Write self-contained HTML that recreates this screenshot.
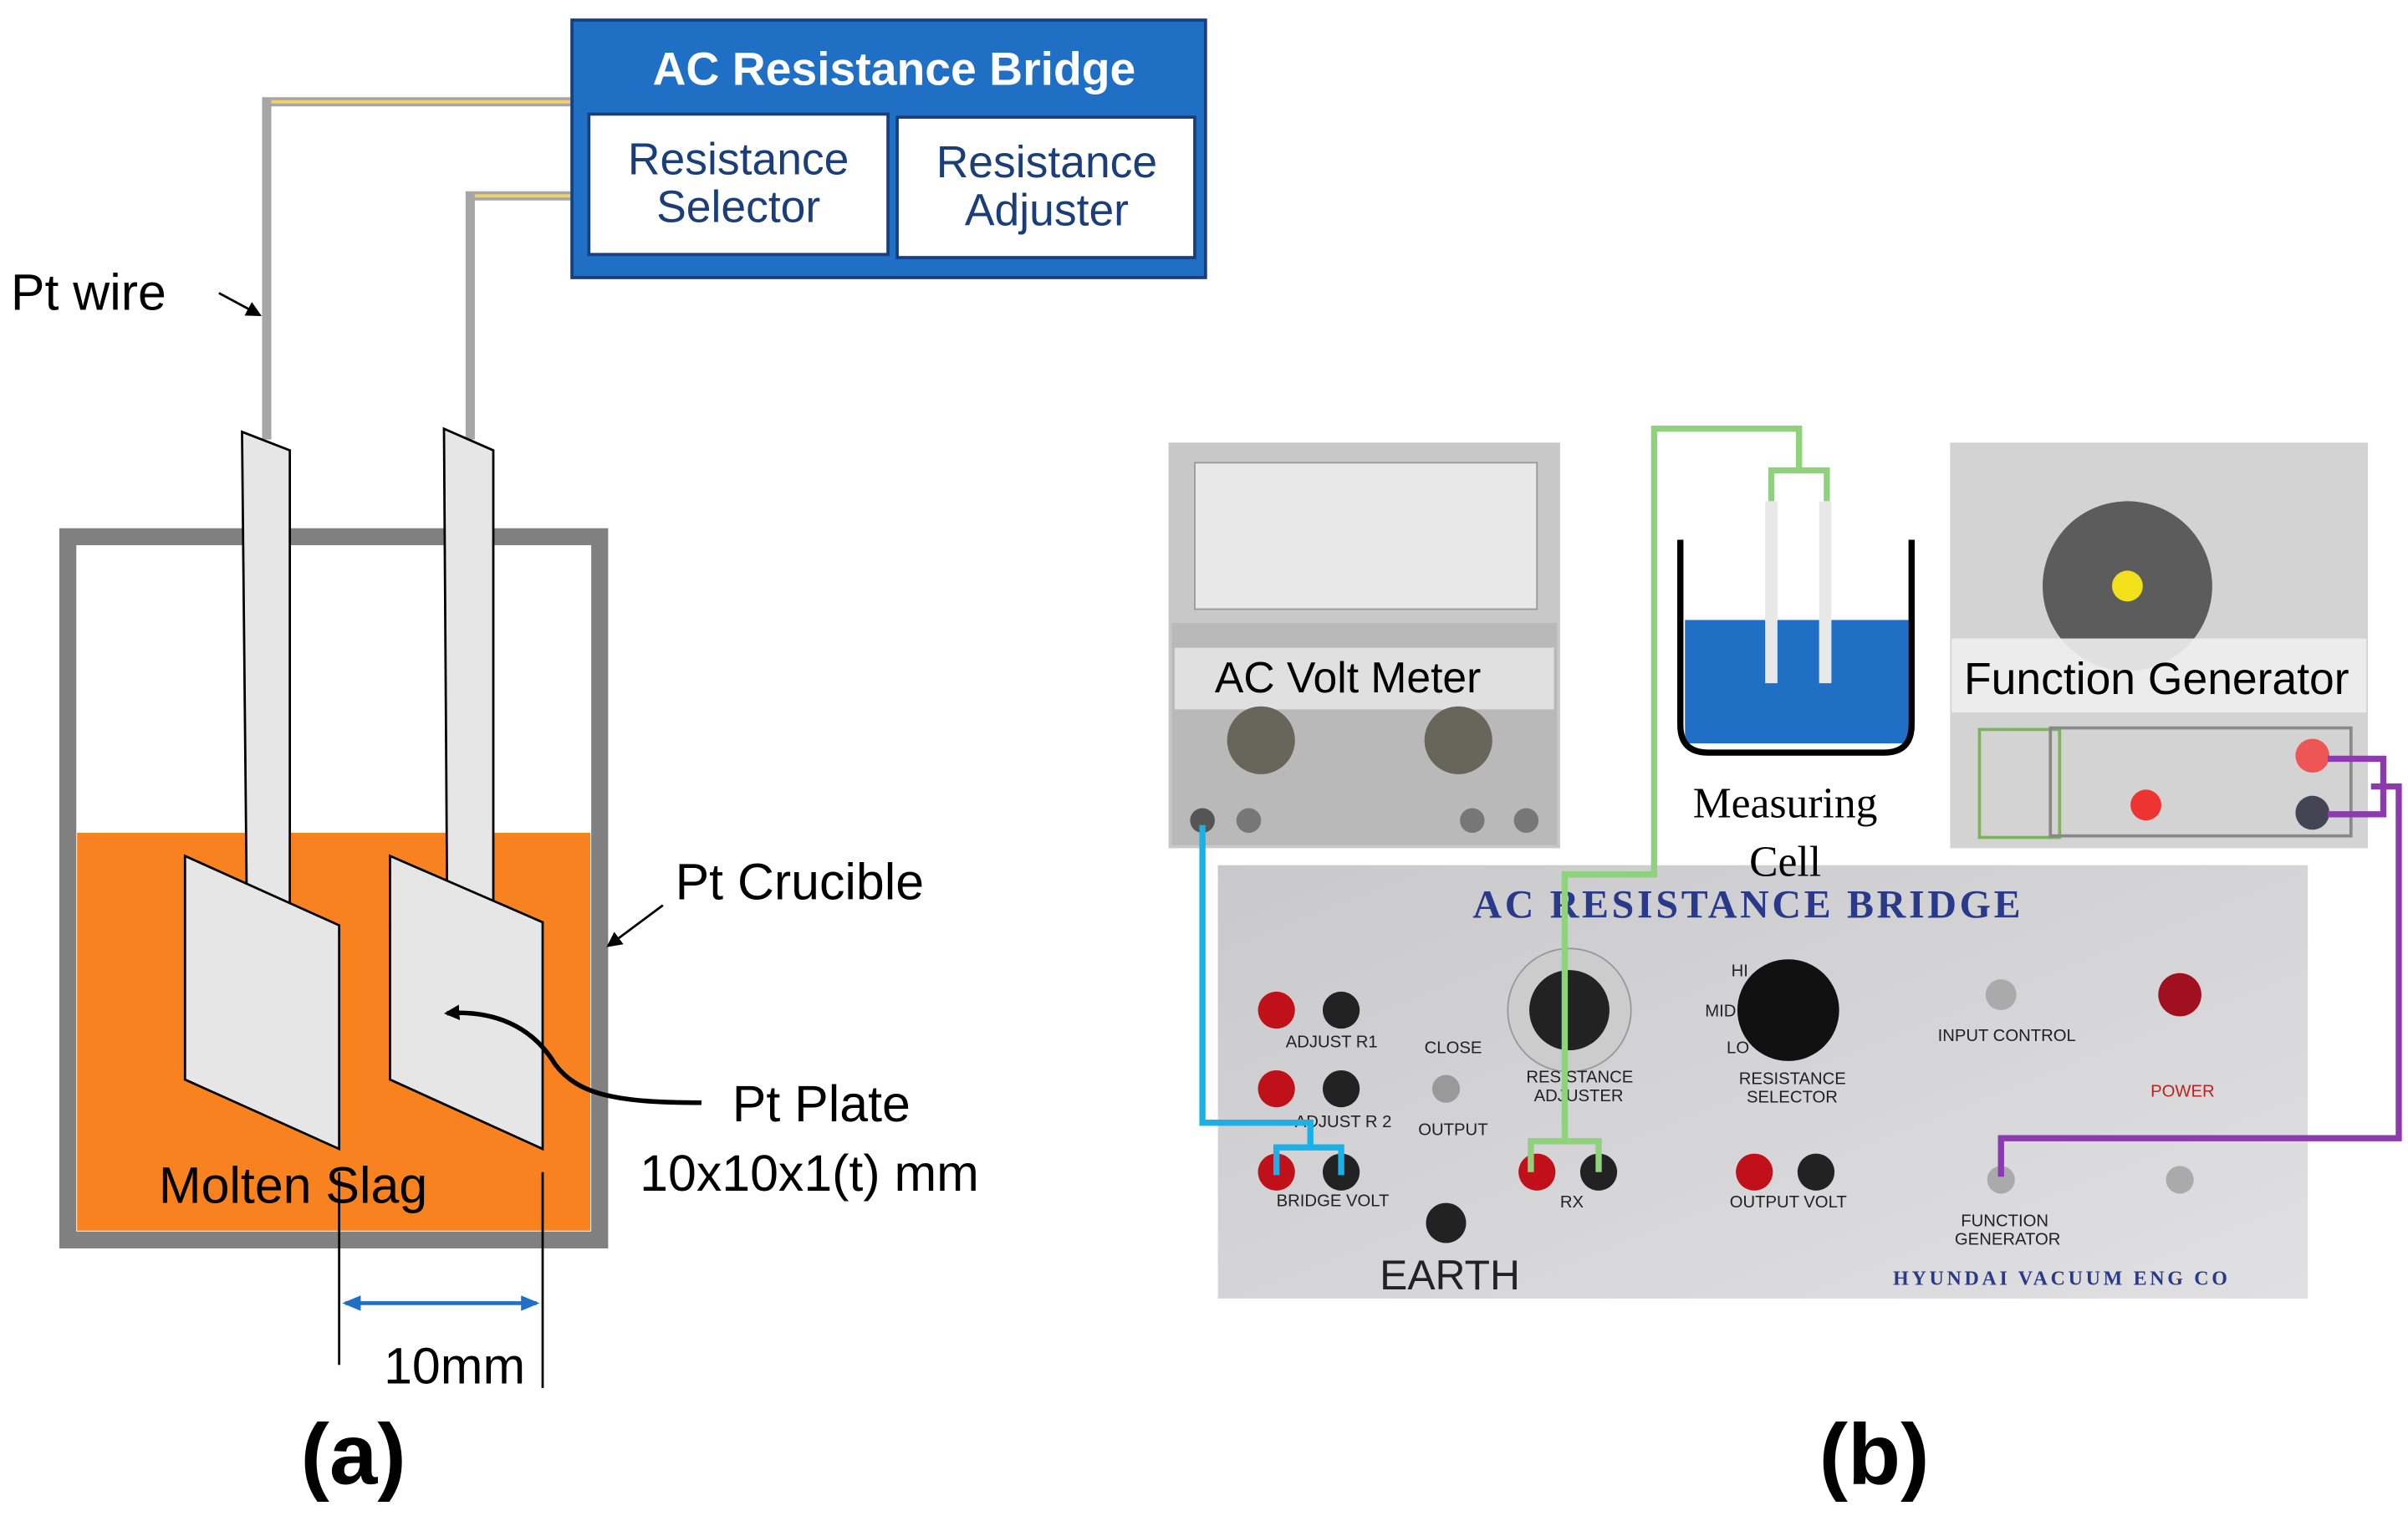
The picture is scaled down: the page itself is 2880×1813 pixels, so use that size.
<!DOCTYPE html>
<html><head><meta charset="utf-8"><style>
html,body{margin:0;padding:0;background:#fff}
svg{display:block}
text{font-family:"Liberation Sans",sans-serif}
.s{font-family:"Liberation Serif",serif}
</style></head><body>
<svg width="2880" height="1813" viewBox="0 0 1562 983" preserveAspectRatio="none" xmlns="http://www.w3.org/2000/svg">
<defs>
<marker id="ah" markerWidth="10" markerHeight="10" refX="8" refY="5" orient="auto" markerUnits="userSpaceOnUse"><path d="M0,0 L10,5 L0,10 z" fill="#000"/></marker>
<marker id="bh" markerWidth="12" markerHeight="10" refX="10" refY="5" orient="auto-start-reverse" markerUnits="userSpaceOnUse"><path d="M0,0 L12,5 L0,10 z" fill="#1f6fc5"/></marker>
<linearGradient id="pg" x1="0" y1="0" x2="1" y2="1"><stop offset="0" stop-color="#c9c9cb"/><stop offset="1" stop-color="#e0e0e2"/></linearGradient>
</defs>
<!-- Panel a -->
<rect x="44" y="348" width="345" height="456" fill="#fff" stroke="#808080" stroke-width="11"/>
<rect x="50" y="540" width="333" height="258" fill="#f7821f"/>
<!-- wires -->
<path d="M173,285 V66 H370" fill="none" stroke="#a6a6a6" stroke-width="6"/>
<path d="M176,66 H370" stroke="#f2d36b" stroke-width="2"/>
<path d="M305,285 V127 H370" fill="none" stroke="#a6a6a6" stroke-width="6"/>
<path d="M308,127 H370" stroke="#f2d36b" stroke-width="2"/>
<!-- stems & plates -->
<polygon points="157,280 188,292 188,588 160,578" fill="#e6e6e6" stroke="#000" stroke-width="1.5"/>
<polygon points="120,555 220,600 220,745 120,700" fill="#e6e6e6" stroke="#000" stroke-width="1.5"/>
<polygon points="288,278 320,292 320,588 290,578" fill="#e6e6e6" stroke="#000" stroke-width="1.5"/>
<polygon points="253,555 352,598 352,745 253,700" fill="#e6e6e6" stroke="#000" stroke-width="1.5"/>
<!-- box -->
<rect x="371" y="13" width="411" height="167" fill="#1f6fc5" stroke="#1a3e7a" stroke-width="2"/>
<text x="580" y="55" font-size="30" font-weight="bold" fill="#fff" text-anchor="middle">AC Resistance Bridge</text>
<rect x="382" y="74" width="194" height="91" fill="#fff" stroke="#1a3e7a" stroke-width="2"/>
<rect x="582" y="76" width="193" height="91" fill="#fff" stroke="#1a3e7a" stroke-width="2"/>
<text x="479" y="113" font-size="29" fill="#1a3e7a" text-anchor="middle">Resistance</text>
<text x="479" y="144" font-size="29" fill="#1a3e7a" text-anchor="middle">Selector</text>
<text x="679" y="115" font-size="29" fill="#1a3e7a" text-anchor="middle">Resistance</text>
<text x="679" y="146" font-size="29" fill="#1a3e7a" text-anchor="middle">Adjuster</text>
<!-- labels a -->
<text x="7" y="201" font-size="33">Pt wire</text>
<line x1="142" y1="190" x2="168" y2="204" stroke="#000" stroke-width="1.5" marker-end="url(#ah)"/>
<text x="438" y="583" font-size="33">Pt Crucible</text>
<line x1="430" y1="587" x2="395" y2="613" stroke="#000" stroke-width="1.5" marker-end="url(#ah)"/>
<path d="M455,715 C400,715 375,710 360,690 C345,665 320,655 290,657" fill="none" stroke="#000" stroke-width="3" marker-end="url(#ah)"/>
<text x="475" y="727" font-size="33">Pt Plate</text>
<text x="415" y="772" font-size="33">10x10x1(t) mm</text>
<text x="103" y="780" font-size="33">Molten Slag</text>
<line x1="220" y1="760" x2="220" y2="885" stroke="#000" stroke-width="1.5"/>
<line x1="352" y1="760" x2="352" y2="900" stroke="#000" stroke-width="1.5"/>
<line x1="224" y1="845" x2="348" y2="845" stroke="#1f6fc5" stroke-width="2.5" marker-start="url(#bh)" marker-end="url(#bh)"/>
<text x="249" y="897" font-size="33">10mm</text>
<text x="195" y="962" font-size="56" font-weight="bold">(a)</text>
<text x="1180" y="962" font-size="56" font-weight="bold">(b)</text>
<!-- Panel b: volt meter -->
<rect x="758" y="287" width="254" height="263" fill="#c8c8c8"/>
<rect x="775" y="300" width="222" height="95" fill="#e8e8e8" stroke="#999"/>
<rect x="760" y="404" width="250" height="144" fill="#b9b9b9"/>
<rect x="762" y="420" width="246" height="40" fill="#e6e6e6" opacity="0.85"/>
<text x="788" y="449" font-size="28">AC Volt Meter</text>
<circle cx="818" cy="480" r="22" fill="#66665a"/>
<circle cx="946" cy="480" r="22" fill="#66665a"/>
<circle cx="780" cy="532" r="8" fill="#555"/><circle cx="810" cy="532" r="8" fill="#777"/>
<circle cx="955" cy="532" r="8" fill="#777"/><circle cx="990" cy="532" r="8" fill="#777"/>
<!-- function generator -->
<rect x="1265" y="287" width="271" height="263" fill="#d3d3d3"/>
<circle cx="1380" cy="380" r="55" fill="#5c5c5c"/>
<circle cx="1380" cy="380" r="10" fill="#f2e01a"/>
<rect x="1266" y="414" width="269" height="48" fill="#eeeeee" opacity="0.9"/>
<text x="1274" y="450" font-size="29">Function Generator</text>
<rect x="1284" y="473" width="52" height="70" fill="none" stroke="#7cb35b" stroke-width="2"/>
<rect x="1330" y="472" width="195" height="70" fill="none" stroke="#888" stroke-width="2"/>
<circle cx="1392" cy="522" r="10" fill="#e33"/>
<circle cx="1500" cy="490" r="11" fill="#e55"/><circle cx="1500" cy="527" r="11" fill="#445"/>
<!-- measuring cell -->
<rect x="1093" y="402" width="145" height="80" fill="#1f6fc5"/>
<path d="M1090,350 V470 Q1090,488 1108,488 H1222 Q1240,488 1240,470 V350" fill="none" stroke="#000" stroke-width="4"/>
<rect x="1145" y="325" width="8" height="118" fill="#e8e8e8"/>
<rect x="1180" y="325" width="8" height="118" fill="#e8e8e8"/>
<text class="s" x="1158" y="530" font-size="28" text-anchor="middle">Measuring</text>
<!-- bridge panel -->
<rect x="790" y="561" width="707" height="281" fill="url(#pg)"/>
<text class="s" x="1134" y="595" font-size="26" fill="#2a3a8a" text-anchor="middle" font-weight="bold" letter-spacing="2">AC RESISTANCE BRIDGE</text>
<text class="s" x="1158" y="568" font-size="28" text-anchor="middle">Cell</text>
<g font-size="11" fill="#222">
<circle cx="828" cy="655" r="12" fill="#c0101a"/><circle cx="870" cy="655" r="12" fill="#222"/>
<text x="834" y="679">ADJUST R1</text>
<circle cx="828" cy="706" r="12" fill="#c0101a"/><circle cx="870" cy="706" r="12" fill="#222"/>
<text x="840" y="731">ADJUST R 2</text>
<circle cx="828" cy="760" r="12" fill="#c0101a"/><circle cx="870" cy="760" r="12" fill="#222"/>
<text x="828" y="782">BRIDGE VOLT</text>
<circle cx="938" cy="793" r="13" fill="#222"/>
<text x="924" y="683">CLOSE</text><circle cx="938" cy="706" r="9" fill="#999"/><text x="920" y="736">OUTPUT</text>
<circle cx="1018" cy="655" r="40" fill="#ccc" stroke="#999"/><circle cx="1018" cy="655" r="26" fill="#222"/>
<text x="990" y="702">RESISTANCE</text><text x="995" y="714">ADJUSTER</text>
<circle cx="1160" cy="655" r="33" fill="#111"/>
<text x="1123" y="633">HI</text><text x="1106" y="659">MID</text><text x="1120" y="683">LO</text>
<text x="1128" y="703">RESISTANCE</text><text x="1133" y="715">SELECTOR</text>
<circle cx="997" cy="760" r="12" fill="#c0101a"/><circle cx="1037" cy="760" r="12" fill="#222"/>
<text x="1012" y="783">RX</text>
<circle cx="1138" cy="760" r="12" fill="#c0101a"/><circle cx="1178" cy="760" r="12" fill="#222"/>
<text x="1122" y="783">OUTPUT VOLT</text>
<circle cx="1298" cy="645" r="10" fill="#aaa"/><text x="1257" y="675">INPUT CONTROL</text>
<circle cx="1414" cy="645" r="14" fill="#a01020"/><text x="1395" y="711" fill="#c02020">POWER</text>
<circle cx="1298" cy="765" r="9" fill="#aaa"/><text x="1272" y="795">FUNCTION</text><text x="1268" y="807">GENERATOR</text>
<circle cx="1414" cy="765" r="9" fill="#aaa"/>
</g>
<text x="895" y="836" font-size="27" fill="#222">EARTH</text>
<text class="s" x="1228" y="833" font-size="13" fill="#2a3a8a" font-weight="bold" letter-spacing="2">HYUNDAI VACUUM ENG CO</text>
<!-- connector wires -->
<path d="M780,535 V728 H850 V744 M828,762 V744 H870 V762" fill="none" stroke="#1ab0e8" stroke-width="4"/>
<path d="M1149,325 V305 H1185 V325 M1167,305 V278 H1073 V567 H1015 V740 M993,760 V740 H1037 V760" fill="none" stroke="#8fd17d" stroke-width="4"/>
<path d="M1510,492 H1546 V528 H1510 M1538,510 H1556 V738 H1298 V763" fill="none" stroke="#8b3ab0" stroke-width="4"/>
</svg>
</body></html>
